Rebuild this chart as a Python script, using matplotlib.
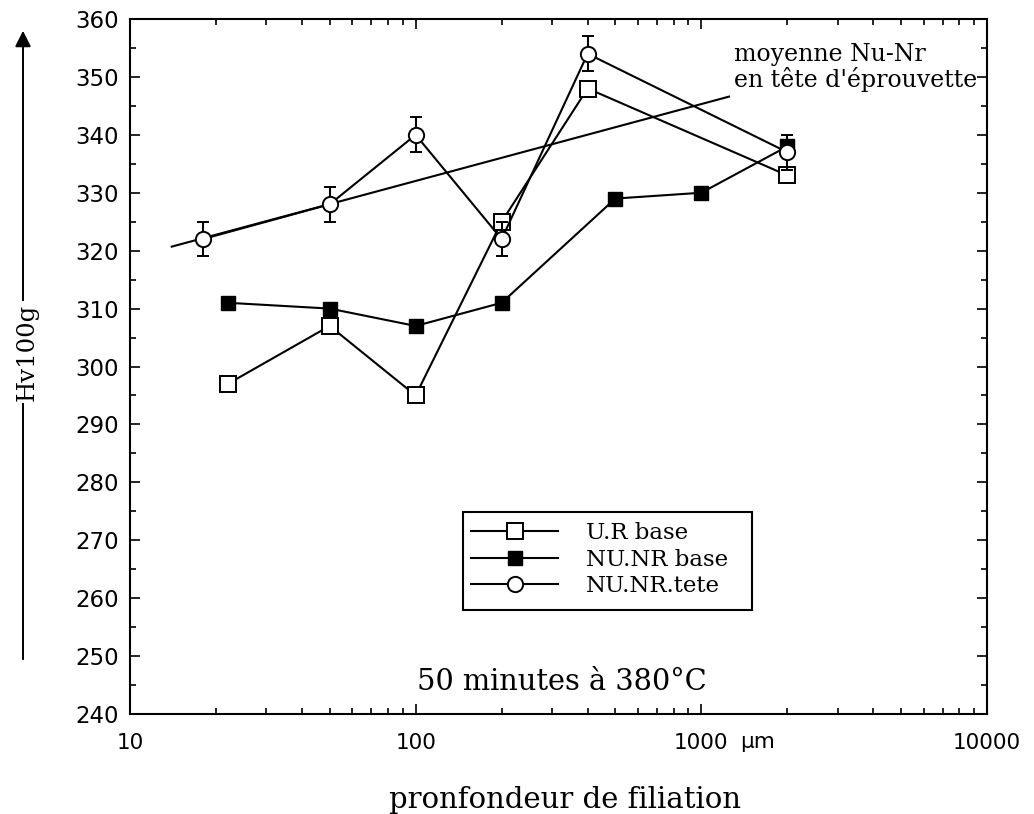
import matplotlib
matplotlib.use('Agg')
import matplotlib.pyplot as plt
from matplotlib.lines import Line2D
from matplotlib.patches import Rectangle, FancyArrowPatch
from matplotlib.ticker import FixedLocator, NullFormatter, MultipleLocator

# ---- data ----
depth_ur = [22, 50, 100, 200, 400, 2000]
hv_ur = [297, 307, 295, 325, 348, 333]

depth_nub = [22, 50, 100, 200, 500, 1000, 2000]
hv_nub = [311, 310, 307, 311, 329, 330, 338]

depth_nut = [18, 50, 100, 200, 400, 2000]
hv_nut = [322, 328, 340, 322, 354, 337]
err_nut = [3, 3, 3, 3, 3, 3]

trend_x = [14, 1250]
trend_y = [320.7, 346.6]

series_labels = ['U.R base', 'NU.NR base', 'NU.NR.tete']
xticks = [10, 100, 1000, 10000]
xticklabels = ['10', '100', '1000', '10000']
yticks = list(range(240, 361, 10))

W, H = 1034, 814
def fx(px):
    return px / W
def fy(py):
    return 1 - py / H

SERIF = ['DejaVu Serif']
SANS = ['DejaVu Sans']

fig = plt.figure(figsize=(W / 100, H / 100), dpi=100)
L, R, T, B = 130, 987, 19, 714
ax = fig.add_axes([fx(L), fy(B), fx(R) - fx(L), fy(T) - fy(B)])
ax.set_xscale('log')
ax.set_xlim(10, 10000)
ax.set_ylim(240, 360)

lw = 1.5
sq_open = dict(color='black', lw=lw, marker='s', ms=12, mfc='white',
               mec='black', mew=1.4)
sq_fill = dict(color='black', lw=lw, marker='s', ms=9.5, mfc='black',
               mec='black')
circ = dict(color='black', lw=lw, marker='o', ms=11, mfc='white',
            mec='black', mew=1.4)

ax.plot(trend_x, trend_y, color='black', lw=lw, zorder=2)
ax.plot(depth_ur, hv_ur, zorder=3, **sq_open)
ax.plot(depth_nub, hv_nub, zorder=3, **sq_fill)
ax.errorbar(depth_nut, hv_nut, yerr=err_nut, capsize=4.5, capthick=1.5,
            elinewidth=1.5, zorder=4, **circ)

# ticks
ax.yaxis.set_major_locator(FixedLocator(yticks))
ax.yaxis.set_minor_locator(MultipleLocator(5))
ax.set_xticks(xticks)
ax.set_xticklabels(xticklabels)
ax.xaxis.set_minor_formatter(NullFormatter())
ax.tick_params(which='both', direction='in', top=True, right=True,
               width=1.2, colors='black')
ax.tick_params(which='major', length=7)
ax.tick_params(which='minor', length=4)
ax.tick_params(axis='y', labelsize=16.5, pad=8)
ax.tick_params(axis='x', labelsize=15.5, pad=14)
for lab in ax.get_xticklabels() + ax.get_yticklabels():
    lab.set_family(SANS)
for sp in ax.spines.values():
    sp.set_linewidth(1.5)

# micrometre unit next to the 1000 label
fig.text(fx(740), fy(742), 'µm', family=SANS, fontsize=15.5,
         ha='left', va='center')

# legend (frame drawn separately)
handles = [Line2D([], [], **sq_open), Line2D([], [], **sq_fill),
           Line2D([], [], **circ)]
leg = ax.legend(handles, series_labels, loc='upper left',
                bbox_to_anchor=(fx(463), fy(514)),
                bbox_transform=fig.transFigure, frameon=False,
                borderaxespad=0, handlelength=3.8, handletextpad=1.2,
                labelspacing=0.2, borderpad=0.35,
                prop={'family': SERIF, 'size': 16.5})
fig.add_artist(Rectangle((fx(463), fy(610)), fx(752) - fx(463),
                         fy(512) - fy(610), transform=fig.transFigure,
                         facecolor='none', edgecolor='black', lw=1.5))

# annotations
fig.text(fx(734), fy(55), 'moyenne Nu-Nr', family=SERIF, fontsize=17,
         ha='left', va='center')
fig.text(fx(734), fy(80), "en tête d'éprouvette", family=SERIF, fontsize=17,
         ha='left', va='center')
fig.text(fx(562), fy(682), '50 minutes à 380°C', family=SERIF, fontsize=20.8,
         ha='center', va='center')
fig.text(fx(565), fy(800), 'pronfondeur de filiation', family=SERIF,
         fontsize=21, ha='center', va='center')

# y label with upward arrow
fig.add_artist(FancyArrowPatch(
    (fx(23), fy(662)), (fx(23), fy(28)), transform=fig.transFigure,
    arrowstyle='-|>', mutation_scale=24, color='black', lw=1.4))
fig.text(fx(27), fy(352), 'Hv100g', family=SERIF, fontsize=17.5,
         rotation=90, ha='center', va='center',
         bbox=dict(facecolor='white', edgecolor='none', pad=1.5))

fig.savefig('out.png', dpi=100)
